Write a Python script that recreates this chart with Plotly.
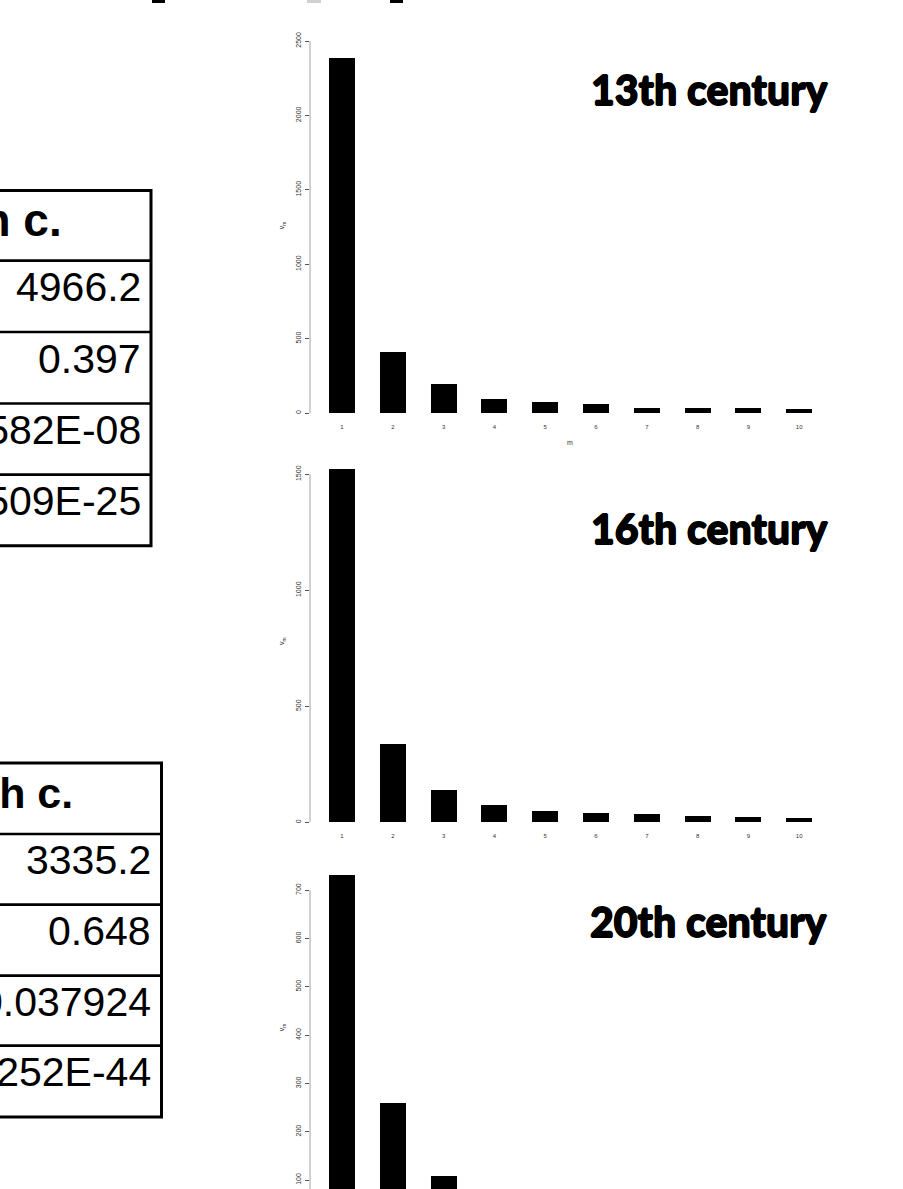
import plotly.graph_objects as go

# ---- data -----------------------------------------------------------------
m_values = [1, 2, 3, 4, 5, 6, 7, 8, 9, 10]
tick_text = [str(m) for m in m_values]

v13 = [2384, 412, 193, 94, 76, 60, 36, 31, 36, 27]
v16 = [1521, 336, 138, 73, 49, 41, 34, 27, 21, 18]
v20 = [731, 259, 108]

period_titles = ["13th century", "16th century", "20th century"]

table_a_header = "13th c."
table_a_cells = ["4966.2", "0.397", "3.582E-08", "2.509E-25"]
table_b_header = "20th c."
table_b_cells = ["3335.2", "0.648", "0.037924", "1.252E-44"]

# ---- page geometry (pixels) -------------------------------------------------
W, H = 903, 1189
SANS = "Liberation Sans, Arial, Helvetica, sans-serif"


def px(x):
    return x / W


def py(y):
    return 1 - y / H


BAR_X0 = 342.0     # centre of first bar
BAR_STEP = 50.8    # distance between bar centres
AXIS_X = 310.0     # left edge of plot area (y axis)
RIGHT_X = 830.0
x_range = [1 - (BAR_X0 - AXIS_X) / BAR_STEP, 1 + (RIGHT_X - BAR_X0) / BAR_STEP]

# per panel: pixel of zero, pixels per unit, plot top/bottom pixels, ticks, axis line extent
panels = [
    dict(values=v13, zero=413.0, scale=372.0 / 2500, top=38.0, bottom=413.0,
         ticks=[0, 500, 1000, 1500, 2000, 2500], line=(0, 2500), xlabels=True, xtitle="m"),
    dict(values=v16, zero=822.3, scale=348.0 / 1500, top=460.0, bottom=822.3,
         ticks=[0, 500, 1000, 1500], line=(0, 1500), xlabels=True, xtitle=None),
    dict(values=v20, zero=1228.3, scale=48.3 / 100, top=866.0, bottom=1189.0,
         ticks=[0, 100, 200, 300, 400, 500, 600, 700], line=(None, 700), xlabels=False, xtitle=None),
]

fig = go.Figure()
shapes = []
annotations = []

for i, p in enumerate(panels):
    n = i + 1
    xa = "x" if n == 1 else f"x{n}"
    ya = "y" if n == 1 else f"y{n}"
    lo = (p["zero"] - p["bottom"]) / p["scale"]
    hi = (p["zero"] - p["top"]) / p["scale"]

    fig.add_trace(go.Bar(
        x=m_values[:len(p["values"])], y=p["values"], width=0.512,
        marker=dict(color="#000000", line=dict(width=0)),
        xaxis=xa, yaxis=ya, showlegend=False, hoverinfo="x+y",
    ))

    xkey = "xaxis" if n == 1 else f"xaxis{n}"
    ykey = "yaxis" if n == 1 else f"yaxis{n}"
    xaxis = dict(
        domain=[px(AXIS_X), px(RIGHT_X)], range=x_range, anchor=ya,
        automargin=False, showgrid=False, zeroline=False, showline=False, ticks="",
        tickmode="array", tickvals=m_values, ticktext=tick_text,
        showticklabels=p["xlabels"], ticklabelstandoff=9,
        tickfont=dict(family=SANS, size=6, color="#333"),
    )
    if p["xtitle"]:
        xaxis["title"] = dict(text=p["xtitle"], standoff=11,
                              font=dict(family=SANS, size=7, color="#333"))
    fig.update_layout({
        xkey: xaxis,
        ykey: dict(
            domain=[py(p["bottom"]), py(p["top"])], range=[lo, hi], anchor=xa,
            automargin=False, showgrid=False, zeroline=False, showline=False,
            ticks="outside", ticklen=4, tickwidth=1, tickcolor="#555",
            tickmode="array", tickvals=p["ticks"], tickangle=-90,
            ticklabelstandoff=1,
            tickfont=dict(family=SANS, size=7, color="#333"),
            title=dict(text="v<sub>m</sub>", standoff=9,
                       font=dict(family=SANS, size=7, color="#333")),
        ),
    })

    y_lo = p["line"][0] if p["line"][0] is not None else lo
    shapes.append(dict(type="line", xref="paper", yref=ya,
                       x0=px(AXIS_X), x1=px(AXIS_X), y0=y_lo, y1=p["line"][1],
                       line=dict(color="#bdbdbd", width=1.4)))

# panel titles (heavy display face, thickened with a tight outline shadow)
HEAVY = "0.7px 0 0 #000, -0.7px 0 0 #000, 0 0.7px 0 #000, 0 -0.7px 0 #000"
title_pos = [(709, 89), (709, 528), (708, 921)]
for txt, (tx, ty) in zip(period_titles, title_pos):
    annotations.append(dict(
        text=txt, x=px(tx), y=py(ty), xref="paper", yref="paper",
        xanchor="center", yanchor="middle", showarrow=False,
        font=dict(family="Lato, sans-serif", size=41, color="#000", weight=900,
                  shadow=HEAVY),
    ))

# slivers of content cut off along the top edge of the page
for x0, x1, col in [(152, 165, "#000"), (307, 321, "#d0d0d0"), (390, 403, "#000")]:
    shapes.append(dict(type="rect", xref="paper", yref="paper",
                       x0=px(x0), x1=px(x1), y0=py(3), y1=py(0),
                       line=dict(width=0), fillcolor=col))


# ---- tables (right-most column, running off the left edge) ------------------
def add_table(header, cells, right_x, row_lines, header_right, header_size, cell_size, pad):
    top, bottom = row_lines[0], row_lines[-1]
    shapes.append(dict(type="rect", xref="paper", yref="paper",
                       x0=px(-20), x1=px(right_x), y0=py(bottom), y1=py(top),
                       line=dict(color="#000", width=3), fillcolor="rgba(0,0,0,0)"))
    for yl in row_lines[1:-1]:
        shapes.append(dict(type="line", xref="paper", yref="paper",
                           x0=px(-20), x1=px(right_x), y0=py(yl), y1=py(yl),
                           line=dict(color="#000", width=2.7)))
    yc = (row_lines[0] + row_lines[1]) / 2 - 6
    annotations.append(dict(
        text=header, x=px(header_right), y=py(yc), xref="paper", yref="paper",
        xanchor="right", yanchor="middle", showarrow=False,
        font=dict(family=SANS, size=header_size, color="#000", weight="bold"),
    ))
    for k, t in enumerate(cells, start=1):
        yc = (row_lines[k] + row_lines[k + 1]) / 2 - 9
        annotations.append(dict(
            text=t, x=px(right_x - pad), y=py(yc), xref="paper", yref="paper",
            xanchor="right", yanchor="middle", showarrow=False,
            font=dict(family=SANS, size=cell_size, color="#000"),
        ))


add_table(table_a_header, table_a_cells, 151.0,
          [190.5, 260.7, 332.0, 403.5, 474.7, 545.8], 64, 46, 41, 8)
add_table(table_b_header, table_b_cells, 161.5,
          [763.0, 834.0, 904.7, 975.7, 1045.7, 1117.0], 75, 43, 41, 9)

fig.update_layout(
    width=W, height=H,
    margin=dict(l=0, r=0, t=0, b=0, autoexpand=False),
    paper_bgcolor="#ffffff", plot_bgcolor="#ffffff",
    shapes=shapes, annotations=annotations,
    bargap=0,
)

fig.write_html("out.html")
